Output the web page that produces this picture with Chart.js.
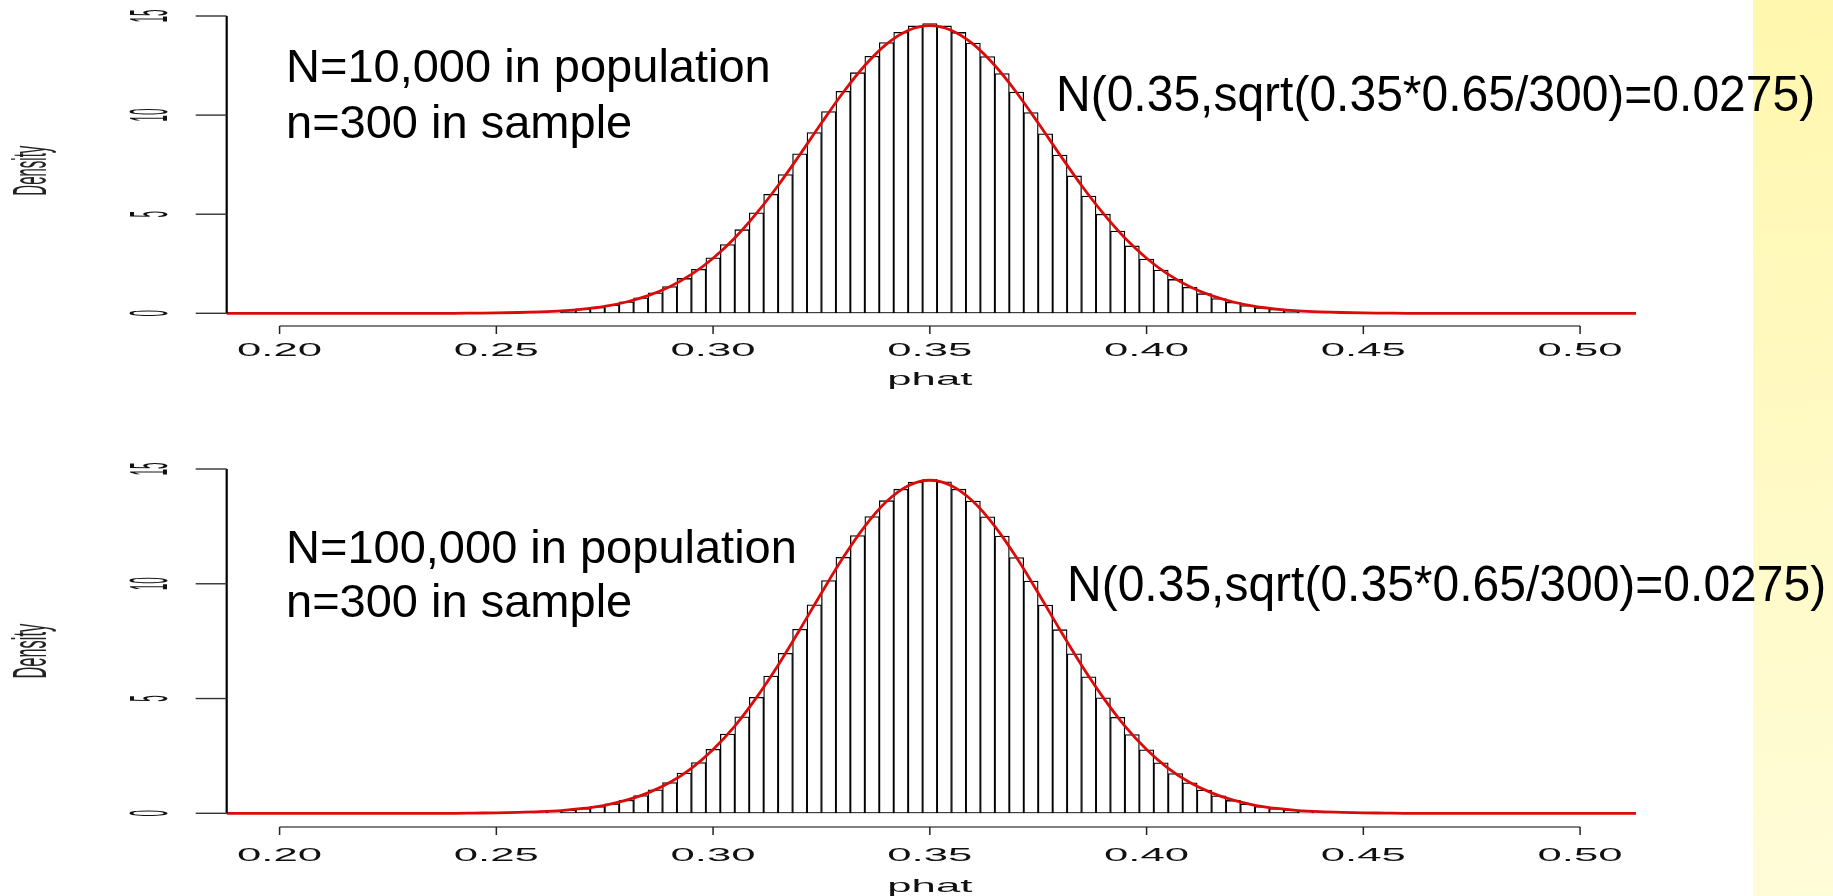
<!DOCTYPE html>
<html>
<head>
<meta charset="utf-8">
<script src="https://cdn.jsdelivr.net/npm/chart.js@4.4.1/dist/chart.umd.min.js"></script>
<style>
  html, body { margin: 0; padding: 0; background: #fff; }
  #page { position: relative; width: 1833px; height: 896px; overflow: hidden; background: #fff; }
  #band { position: absolute; left: 1753px; top: 0; width: 80px; height: 896px;
          background: linear-gradient(175deg, #fff7ad 0%, #fffac4 50%, #fffcd8 100%); }
  .panel { position: absolute; left: 0; width: 1833px; height: 448px; }
  .note { position: absolute; font-family: "Liberation Sans", Arial, sans-serif; color: #000; white-space: nowrap; }
</style>
</head>
<body>
<div id="page">
  <div id="band"></div>
  <div class="panel" style="top:0"><canvas id="topChart" width="1833" height="448"></canvas></div>
  <div class="panel" style="top:448px"><canvas id="bottomChart" width="1833" height="448"></canvas></div>
  <div class="note" style="left:286px;top:38px;font-size:47px;line-height:56px">N=10,000 in population<br>n=300 in sample</div>
  <div class="note" style="left:1056px;top:70px;font-size:48px;line-height:48px;transform:scaleY(1.05)">N(0.35,sqrt(0.35*0.65/300)=0.0275)</div>
  <div class="note" style="left:286px;top:520px;font-size:47px;line-height:54px">N=100,000 in population<br>n=300 in sample</div>
  <div class="note" style="left:1067px;top:560px;font-size:48px;line-height:48px;transform:scaleY(1.05)">N(0.35,sqrt(0.35*0.65/300)=0.0275)</div>
</div>
<script>
"use strict";

// 1: data
// phat values of the histogram bars (k/300, k = 78..132)
let phat = [0.26, 0.26333, 0.26667, 0.27, 0.27333, 0.27667, 0.28, 0.28333, 0.28667, 0.29,
  0.29333, 0.29667, 0.30, 0.30333, 0.30667, 0.31, 0.31333, 0.31667, 0.32, 0.32333,
  0.32667, 0.33, 0.33333, 0.33667, 0.34, 0.34333, 0.34667, 0.35, 0.35333, 0.35667,
  0.36, 0.36333, 0.36667, 0.37, 0.37333, 0.37667, 0.38, 0.38333, 0.38667, 0.39,
  0.39333, 0.39667, 0.40, 0.40333, 0.40667, 0.41, 0.41333, 0.41667, 0.42, 0.42333,
  0.42667, 0.43, 0.43333, 0.43667, 0.44];

// density of each bar, N=10,000
let densityTop = [0.07, 0.10, 0.15, 0.22, 0.30, 0.42, 0.58, 0.78, 1.03, 1.35,
  1.76, 2.22, 2.80, 3.47, 4.22, 5.07, 6.00, 7.00, 8.05, 9.12,
  10.18, 11.20, 12.14, 12.97, 13.66, 14.18, 14.50, 14.62, 14.50, 14.17,
  13.64, 12.95, 12.10, 11.16, 10.13, 9.06, 7.98, 6.93, 5.92, 5.00,
  4.15, 3.40, 2.74, 2.18, 1.71, 1.31, 0.99, 0.74, 0.55, 0.39,
  0.28, 0.20, 0.14, 0.09, 0.06];

// density of each bar, N=100,000
let densityBottom = [0.06, 0.10, 0.14, 0.21, 0.30, 0.41, 0.57, 0.77, 1.02, 1.34,
  1.75, 2.21, 2.79, 3.45, 4.20, 5.05, 5.98, 6.97, 8.02, 9.08,
  10.14, 11.15, 12.10, 12.93, 13.62, 14.12, 14.43, 14.55, 14.44, 14.12,
  13.60, 12.92, 12.08, 11.14, 10.12, 9.07, 8.00, 6.95, 5.95, 5.03,
  4.18, 3.43, 2.77, 2.20, 1.73, 1.33, 1.01, 0.76, 0.56, 0.40,
  0.29, 0.21, 0.15, 0.10, 0.07];

// red normal curve N(0.35, 0.0275)
let curveX = [0.1878, 0.24, 0.245, 0.25, 0.255, 0.26, 0.265, 0.27, 0.275, 0.28, 0.285,
  0.29, 0.295, 0.30, 0.305, 0.31, 0.315, 0.32, 0.325, 0.33, 0.335,
  0.34, 0.345, 0.35, 0.355, 0.36, 0.365, 0.37, 0.375, 0.38, 0.385,
  0.39, 0.395, 0.40, 0.405, 0.41, 0.415, 0.42, 0.425, 0.43, 0.435,
  0.44, 0.445, 0.45, 0.455, 0.46, 0.5129];
let curveY = [0, 0.00, 0.01, 0.02, 0.04, 0.07, 0.12, 0.21, 0.35, 0.57, 0.89,
  1.34, 1.96, 2.78, 3.80, 5.04, 6.45, 8.00, 9.60, 11.14, 12.50,
  13.58, 14.27, 14.51, 14.27, 13.58, 12.50, 11.14, 9.60, 8.00, 6.45,
  5.04, 3.80, 2.78, 1.96, 1.34, 0.89, 0.57, 0.35, 0.21, 0.12,
  0.07, 0.04, 0.02, 0.01, 0.00, 0];

let xTicks = [0.20, 0.25, 0.30, 0.35, 0.40, 0.45, 0.50];
let xTickLabels = ["0.20", "0.25", "0.30", "0.35", "0.40", "0.45", "0.50"];
let yTicks = [0, 5, 10, 15];

const FONT = '"Liberation Sans", Arial, sans-serif';

// 2: R-style axes drawn from the chart's own scales
const rAxes = {
  id: 'rAxes',
  afterDraw(chart, args, o) {
    const ctx = chart.ctx;
    const x = chart.scales.x;
    const y = chart.scales.y;
    const left = chart.chartArea.left;
    const base = y.getPixelForValue(0);
    ctx.save();

    // y axis line + ticks + rotated labels
    ctx.strokeStyle = '#000';
    ctx.lineWidth = 2.2;
    ctx.beginPath();
    ctx.moveTo(left, y.getPixelForValue(0));
    ctx.lineTo(left, y.getPixelForValue(15));
    ctx.stroke();
    ctx.strokeStyle = '#333';
    ctx.lineWidth = 1.4;
    ctx.fillStyle = '#111';
    ctx.font = '19px ' + FONT;
    ctx.textAlign = 'center';
    ctx.textBaseline = 'alphabetic';
    for (const v of yTicks) {
      const py = y.getPixelForValue(v);
      ctx.beginPath();
      ctx.moveTo(left - 31, py);
      ctx.lineTo(left, py);
      ctx.stroke();
      ctx.save();
      ctx.translate(167, py);
      ctx.rotate(-Math.PI / 2);
      ctx.scale(0.62, 2.8);
      ctx.fillText(String(v), 0, 0);
      ctx.restore();
    }

    // x axis: line only between first and last tick
    const axisY = base + o.axisGap;
    ctx.strokeStyle = '#555';
    ctx.lineWidth = 1.5;
    ctx.beginPath();
    ctx.moveTo(x.getPixelForValue(xTicks[0]), axisY);
    ctx.lineTo(x.getPixelForValue(xTicks[xTicks.length - 1]), axisY);
    ctx.stroke();
    ctx.strokeStyle = '#222';
    for (let i = 0; i < xTicks.length; i++) {
      const px = x.getPixelForValue(xTicks[i]);
      ctx.beginPath();
      ctx.moveTo(px, axisY);
      ctx.lineTo(px, axisY + 8);
      ctx.stroke();
      ctx.save();
      ctx.translate(px, base + o.labelGap);
      ctx.scale(2.3, 1);
      ctx.fillText(xTickLabels[i], 0, 0);
      ctx.restore();
    }

    // axis titles
    ctx.save();
    ctx.translate(x.getPixelForValue(0.35), base + o.titleGap);
    ctx.scale(2.3, 1);
    ctx.fillText('phat', 0, 0);
    ctx.restore();

    ctx.save();
    ctx.fillStyle = '#222';
    ctx.font = '20px ' + FONT;
    ctx.translate(46, (y.getPixelForValue(0) + y.getPixelForValue(15)) / 2 + o.densityShift);
    ctx.rotate(-Math.PI / 2);
    ctx.scale(o.densitySx, 2.4);
    ctx.fillText('Density', 0, 0);
    ctx.restore();

    ctx.restore();
  }
};

// 3: create one histogram panel
function makePanel(canvasId, barValues, padding, axisOpts) {
  let curvePoints = [];
  for (let i = 0; i < curveX.length; i++) {
    curvePoints.push({ x: curveX[i], y: curveY[i] });
  }
  let barPoints = [];
  for (let i = 0; i < phat.length; i++) {
    barPoints.push({ x: phat[i], y: barValues[i] });
  }
  return new Chart(document.getElementById(canvasId), {
    type: 'bar',
    data: {
      datasets: [{
        type: 'line',
        data: curvePoints,
        borderColor: '#dd0a0a',
        borderWidth: 2.8,
        pointRadius: 0,
        cubicInterpolationMode: 'monotone',
        clip: false,
        order: 0
      }, {
        type: 'bar',
        data: barPoints,
        backgroundColor: '#ffffff',
        borderColor: '#000000',
        borderWidth: 1.3,
        borderSkipped: false,
        barPercentage: 1,
        categoryPercentage: 1,
        order: 1
      }]
    },
    options: {
      responsive: false,
      animation: false,
      layout: { padding: padding },
      plugins: {
        legend: { display: false },
        tooltip: { enabled: false },
        rAxes: axisOpts
      },
      scales: {
        x: { type: 'linear', min: 0.1878, max: 0.5129, offset: false, display: false },
        y: { min: 0, max: 15, display: false }
      }
    },
    plugins: [rAxes]
  });
}

makePanel('topChart', densityTop,
  { left: 226.7, right: 197, top: 16, bottom: 134.7 },
  { axisGap: 12.7, labelGap: 43, titleGap: 72, densitySx: 0.75, densityShift: 6 });
makePanel('bottomChart', densityBottom,
  { left: 226.7, right: 197, top: 21, bottom: 82.7 },
  { axisGap: 13.7, labelGap: 47.5, titleGap: 78.5, densitySx: 0.82, densityShift: 10 });
</script>
</body>
</html>
